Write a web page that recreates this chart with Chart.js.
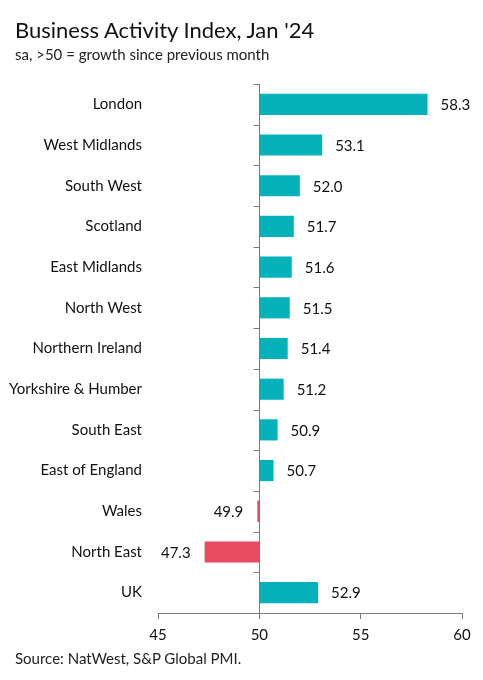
<!DOCTYPE html>
<html lang="en">
<head>
    <meta charset="UTF-8">
    <title>Business Activity Index, Jan '24</title>
    <script src="https://cdn.jsdelivr.net/npm/chart.js"></script>
    <style>
        body {
            margin: 0;
            background: #fff;
            font-family: Lato, 'Noto Sans', sans-serif;
        }
        .wrap {
            position: relative;
            width: 483px;
            height: 680px;
        }
        .title {
            position: absolute;
            left: 15px;
            top: 19px;
            font-size: 22px;
            color: #111;
            line-height: 1;
        }
        .subtitle {
            position: absolute;
            left: 15px;
            top: 47px;
            font-size: 15px;
            color: #222;
            line-height: 1;
        }
        .source {
            position: absolute;
            left: 15px;
            top: 651px;
            font-size: 15px;
            color: #222;
            line-height: 1;
        }
        canvas {
            position: absolute;
            left: 0;
            top: 0;
        }
    </style>
</head>
<body>
    <div class="wrap">
        <canvas id="chart" width="483" height="680"></canvas>
        <div class="title">Business Activity Index, Jan '24</div>
        <div class="subtitle">sa, &gt;50 = growth since previous month</div>
        <div class="source">Source: NatWest, S&amp;P Global PMI.</div>
    </div>

    <script>
        // Data
        const regions = ['London', 'West Midlands', 'South West', 'Scotland', 'East Midlands', 'North West',
            'Northern Ireland', 'Yorkshire & Humber', 'South East', 'East of England', 'Wales', 'North East', 'UK'];
        const values = [58.3, 53.1, 52.0, 51.7, 51.6, 51.5, 51.4, 51.2, 50.9, 50.7, 49.9, 47.3, 52.9];
        const baseline = 50;
        const xTicks = [45, 50, 55, 60];

        const teal = '#06b2ba';
        const red = '#e84a5f';
        const axisGrey = '#7a7a7a';
        const font = "Lato, 'Noto Sans', sans-serif";

        // vertical baseline ticks between categories + value labels
        const extras = {
            id: 'extras',
            afterDatasetsDraw(chart) {
                const { ctx, scales: { x, y } } = chart;
                const x50 = Math.round(x.getPixelForValue(baseline)) + 0.5;
                const half = (y.getPixelForValue(1) - y.getPixelForValue(0)) / 2;
                ctx.save();
                ctx.strokeStyle = axisGrey;
                ctx.lineWidth = 1;
                ctx.beginPath();
                regions.forEach((r, i) => {
                    const yy = Math.round(y.getPixelForValue(i) - half) + 0.5;
                    ctx.moveTo(x50 - 6, yy);
                    ctx.lineTo(x50, yy);
                });
                ctx.stroke();

                ctx.fillStyle = '#111';
                ctx.font = '15px ' + font;
                ctx.textBaseline = 'middle';
                const meta = chart.getDatasetMeta(0);
                meta.data.forEach((bar, i) => {
                    const v = values[i];
                    const label = v.toFixed(1);
                    if (v >= baseline) {
                        ctx.textAlign = 'left';
                        ctx.fillText(label, x.getPixelForValue(v) + 13, bar.y + 1);
                    } else {
                        ctx.textAlign = 'right';
                        ctx.fillText(label, x.getPixelForValue(v) - 14, bar.y + 1);
                    }
                });
                ctx.restore();
            }
        };

        new Chart(document.getElementById('chart'), {
            type: 'bar',
            data: {
                labels: regions,
                datasets: [{
                    data: values.map(v => [baseline, v]),
                    backgroundColor: values.map(v => v < baseline ? red : teal),
                    borderWidth: 0,
                    barPercentage: 0.52,
                    categoryPercentage: 1
                }]
            },
            options: {
                indexAxis: 'y',
                responsive: false,
                animation: false,
                layout: { padding: { top: 84, right: 21, left: 0, bottom: 0 } },
                plugins: {
                    legend: { display: false },
                    tooltip: { enabled: false }
                },
                scales: {
                    x: {
                        min: 45,
                        max: 60,
                        afterBuildTicks(scale) {
                            scale.ticks = xTicks.map(v => ({ value: v }));
                        },
                        afterFit(scale) { scale.height = 67; },
                        grid: {
                            color: c => c.tick && c.tick.value === baseline ? axisGrey : 'transparent',
                            tickColor: axisGrey,
                            tickLength: 6
                        },
                        border: { color: axisGrey },
                        ticks: {
                            color: '#111',
                            font: { family: font, size: 15 },
                            padding: 7
                        }
                    },
                    y: {
                        afterFit(scale) { scale.width = 158; },
                        grid: { display: false, drawTicks: false },
                        border: { display: false },
                        ticks: {
                            color: '#111',
                            font: { family: font, size: 15 },
                            padding: 16
                        }
                    }
                }
            },
            plugins: [extras]
        });
    </script>
</body>
</html>
